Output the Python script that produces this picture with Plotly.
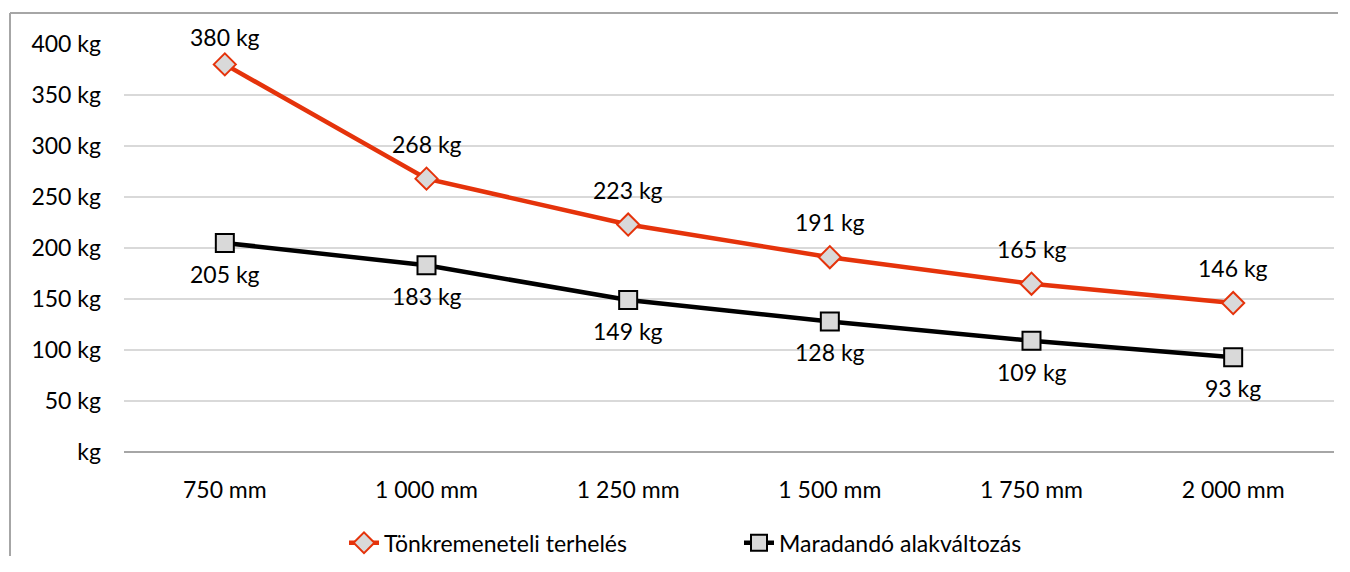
import plotly.graph_objects as go

categories = ["750 mm", "1 000 mm", "1 250 mm", "1 500 mm", "1 750 mm", "2 000 mm"]
failure_load = [380, 268, 223, 191, 165, 146]
permanent_def = [205, 183, 149, 128, 109, 93]
y_tickvals = [0, 50, 100, 150, 200, 250, 300, 350, 400]
y_ticktext = ["kg", "50 kg", "100 kg", "150 kg", "200 kg", "250 kg", "300 kg", "350 kg", "400 kg"]
series_names = ["Tönkremeneteli terhelés", "Maradandó alakváltozás"]

FONT = "Lato, Carlito, Calibri, sans-serif"
FS = 23

# page body has an 8px offset; keep the page from overflowing the window
OFF = 8
FIG_W, FIG_H = 1350 - 2 * OFF - 4, 572 - 2 * OFF - 8
L, T = 124 - OFF, 44 - OFF
W, H = 1210, 408
YMAX = 400

fig = go.Figure()
fig.add_trace(go.Scatter(
    x=categories, y=failure_load, name=series_names[0],
    mode="lines+markers",
    line=dict(color="#E5330B", width=4.5),
    marker=dict(symbol="diamond", size=17, color="#D9D9D9", line=dict(color="#E5330B", width=2)),
    cliponaxis=False,
))
fig.add_trace(go.Scatter(
    x=categories, y=permanent_def, name=series_names[1],
    mode="lines+markers",
    line=dict(color="#000000", width=4.5),
    marker=dict(symbol="square", size=18, color="#D9D9D9", line=dict(color="#000000", width=2)),
    cliponaxis=False,
))

annotations = []
for c, v in zip(categories, failure_load):
    py = T + (YMAX - v) / YMAX * H
    annotations.append(dict(x=c, y=v, xref="x", yref="y", text=f"{v} kg", showarrow=False,
                            yshift=min(35, py - 29), font=dict(size=FS, family=FONT, color="#000")))
for c, v in zip(categories, permanent_def):
    annotations.append(dict(x=c, y=v, xref="x", yref="y", text=f"{v} kg", showarrow=False,
                            yshift=-31, font=dict(size=FS, family=FONT, color="#000")))

bx = (10 - 124) / W
by = (452 - 13) / H
fig.update_layout(
    width=FIG_W, height=FIG_H,
    margin=dict(l=L, r=FIG_W - L - W, t=T, b=FIG_H - T - H, autoexpand=False),
    paper_bgcolor="white", plot_bgcolor="white",
    font=dict(family=FONT, size=FS, color="#000000"),
    showlegend=True,
    legend=dict(orientation="h", x=(344 - 124) / W, xanchor="left", y=-0.17, yanchor="top",
                font=dict(size=FS, family=FONT), entrywidth=350, entrywidthmode="pixels",
                bgcolor="rgba(0,0,0,0)"),
    annotations=annotations,
    shapes=[
        dict(type="line", xref="paper", yref="paper", x0=bx, x1=bx, y0=-0.6, y1=by,
             line=dict(color="#A6A6A6", width=2), layer="below"),
        dict(type="line", xref="paper", yref="paper", x0=bx, x1=1.2, y0=by, y1=by,
             line=dict(color="#A6A6A6", width=2), layer="below"),
    ],
)
fig.update_xaxes(type="category", showgrid=False, showline=False, zeroline=False,
                 ticks="", ticklabelstandoff=22, tickfont=dict(size=FS, family=FONT),
                 range=[-0.5, 5.5], automargin=False)
fig.update_yaxes(range=[0, YMAX], tickvals=y_tickvals, ticktext=y_ticktext,
                 showgrid=True, gridcolor="#D9D9D9", gridwidth=2,
                 zeroline=True, zerolinecolor="#A6A6A6", zerolinewidth=2,
                 showline=False, ticks="", ticklabelstandoff=22, automargin=False,
                 tickfont=dict(size=FS, family=FONT))

fig.write_html("out.html")
